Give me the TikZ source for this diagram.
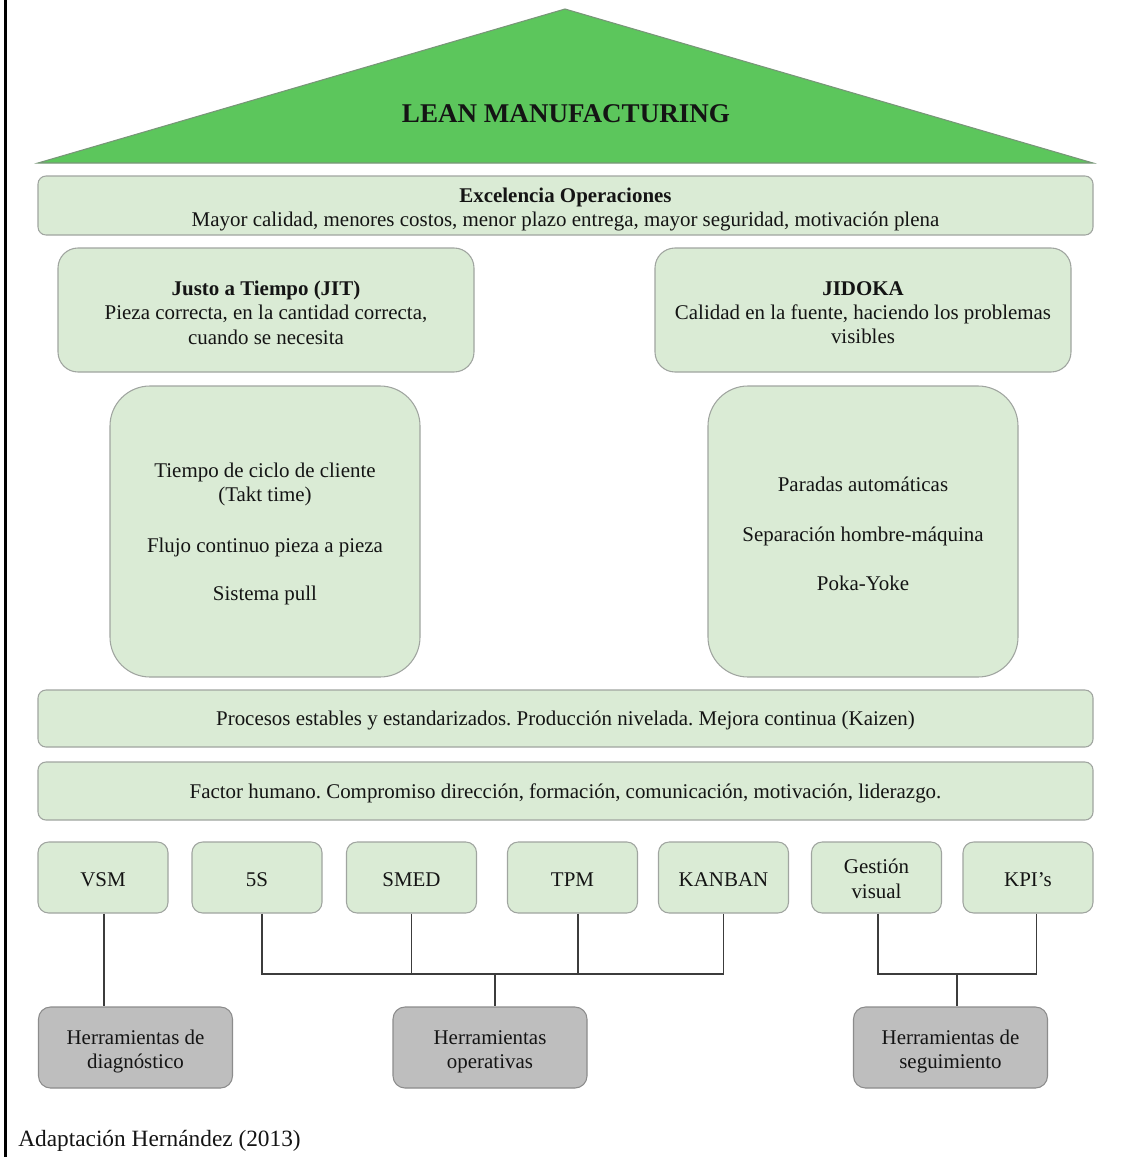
\documentclass[tikz,border=0pt]{standalone}
\usepackage{fontspec}
\setmainfont{Liberation Serif}
\definecolor{roofgreen}{RGB}{92,198,92}
\definecolor{roofedge}{RGB}{120,150,120}
\definecolor{boxgreen}{RGB}{218,235,213}
\definecolor{boxedge}{RGB}{160,165,160}
\definecolor{toolgray}{RGB}{190,190,190}
\definecolor{tooledge}{RGB}{140,140,140}
\definecolor{inkc}{RGB}{20,20,20}
\definecolor{linkc}{RGB}{60,60,60}
\newcommand{\bodyfont}{\fontsize{15.7pt}{18.2pt}\selectfont}
\tikzset{
  wh/.style 2 args={minimum width=#1*0.75pt, minimum height=#2*0.75pt},
  panel/.style={draw=boxedge, line width=0.8pt, fill=boxgreen, inner sep=0pt},
  band/.style={panel, rounded corners=6pt},
  capbox/.style={panel, rounded corners=15pt},
  pillar/.style={panel, rounded corners=30pt},
  toolbox/.style={panel, rounded corners=8pt},
  groupbox/.style={draw=tooledge, line width=0.8pt, fill=toolgray,
    inner sep=0pt, rounded corners=9pt},
  words/.style={text=inkc, align=center, inner sep=0pt, font=\bodyfont},
  link/.style={draw=linkc, line width=1.1pt}
}
\begin{document}
\frenchspacing
\begin{tikzpicture}[x=0.75pt, y=-0.75pt]
\useasboundingbox (0,0) rectangle (1132,1157);
\fill[white] (0,0) rectangle (1132,1157);
% left rule
\fill[black] (4,0) rectangle (7,1157);

% roof
\coordinate (roofL) at (38,163);
\coordinate (roofT) at (565,9);
\coordinate (roofR) at (1093,163);
\filldraw[fill=roofgreen, draw=roofedge, line width=0.8pt, line join=miter]
  (roofL) -- (roofT) -- (roofR) -- cycle;
\node[text=inkc, font=\fontsize{20.3pt}{24pt}\selectfont\bfseries] (title) at (566,114) {LEAN MANUFACTURING};

% boxes
\node[band, wh={1055}{59}] (excel) at (565.5,205.5) {};
\node[capbox, wh={416}{124}] (jit) at (266,310) {};
\node[capbox, wh={416}{124}] (jidoka) at (863,310) {};
\node[pillar, wh={310}{291}] (jitcol) at (265,531.5) {};
\node[pillar, wh={310}{291}] (jidcol) at (863,531.5) {};
\node[band, wh={1055}{57}] (stable) at (565.5,718.5) {};
\node[band, wh={1055}{58}] (human) at (565.5,791) {};

\node[toolbox, wh={130}{71}] (vsm)    at (103,877.5)   {};
\node[toolbox, wh={130}{71}] (fives)  at (257,877.5)   {};
\node[toolbox, wh={130}{71}] (smed)   at (411.5,877.5) {};
\node[toolbox, wh={130}{71}] (tpm)    at (572.5,877.5) {};
\node[toolbox, wh={130}{71}] (kanban) at (723.5,877.5) {};
\node[toolbox, wh={130}{71}] (gvis)   at (876.5,877.5) {};
\node[toolbox, wh={130}{71}] (kpi)    at (1028,877.5)  {};

\node[groupbox, wh={194}{81}] (diag) at (135.5,1047.5) {};
\node[groupbox, wh={194}{81}] (oper) at (490,1047.5)   {};
\node[groupbox, wh={194}{81}] (segu) at (950.5,1047.5) {};

% box texts
\node[words] (excelT) at ([yshift=-3pt]excel.center)
  {\textbf{Excelencia Operaciones}\\Mayor calidad, menores costos, menor plazo entrega, mayor seguridad, motivación plena};
\node[words] (jitT) at ([yshift=-2pt]jit.center)
  {\textbf{Justo a Tiempo (JIT)}\\Pieza correcta, en la cantidad correcta,\\cuando se necesita};
\node[words] (jidokaT) at ([yshift=-2pt]jidoka.center)
  {\textbf{JIDOKA}\\Calidad en la fuente, haciendo los problemas\\visibles};
\node[words] (jitcolT) at ([yshift=-2pt]jitcol.center)
  {Tiempo de ciclo de cliente\\(Takt time)\\[19.5pt]Flujo continuo pieza a pieza\\[18.5pt]Sistema pull};
\node[words] (jidcolT) at ([yshift=-2pt]jidcol.center)
  {Paradas automáticas\\[19pt]Separación hombre-máquina\\[19pt]Poka-Yoke};
\node[words] (stableT) at ([yshift=-1.5pt]stable.center)
  {Procesos estables y estandarizados. Producción nivelada. Mejora continua (Kaizen)};
\node[words] (humanT) at ([yshift=-1.5pt]human.center)
  {Factor humano. Compromiso dirección, formación, comunicación, motivación, liderazgo.};
\node[words] (vsmT) at ([yshift=-1.5pt]vsm.center) {VSM};
\node[words] (fivesT) at ([yshift=-1.5pt]fives.center) {5S};
\node[words] (smedT) at ([yshift=-1.5pt]smed.center) {SMED};
\node[words] (tpmT) at ([yshift=-1.5pt]tpm.center) {TPM};
\node[words] (kanbanT) at ([yshift=-1.5pt]kanban.center) {KANBAN};
\node[words] (gvisT) at ([yshift=-1pt]gvis.center) {Gestión\\visual};
\node[words] (kpiT) at ([yshift=-1.5pt]kpi.center) {KPI’s};
\node[words] (diagT) at ([yshift=-3pt]diag.center) {Herramientas de\\diagnóstico};
\node[words] (operT) at ([yshift=-3pt]oper.center) {Herramientas\\operativas};
\node[words] (seguT) at ([yshift=-3pt]segu.center) {Herramientas de\\seguimiento};

% connectors
\coordinate (busop) at (495,974);
\coordinate (busseg) at (957,974);
\draw[link] ([xshift=0.75pt]vsm.south) -- ([xshift=0.75pt]vsm.south |- diag.north);
\draw[link] ([xshift=3.75pt]fives.south) |- (busop);
\draw[link] (kanban.south) |- (busop);
\draw[link] (smed.south) -- (smed.south |- busop);
\draw[link] ([xshift=4pt]tpm.south) -- ([xshift=4pt]tpm.south |- busop);
\draw[link] (busop) -- (busop |- oper.north);
\draw[link] ([xshift=1pt]gvis.south) |- (busseg);
\draw[link] ([xshift=6.5pt]kpi.south) |- (busseg);
\draw[link] (busseg) -- (busseg |- segu.north);

% source note
\node[anchor=west, text=inkc, font=\fontsize{17.5pt}{21pt}\selectfont, inner sep=0pt] (source) at (18,1141)
  {Adaptación Hernández (2013)};
\end{tikzpicture}
\end{document}
